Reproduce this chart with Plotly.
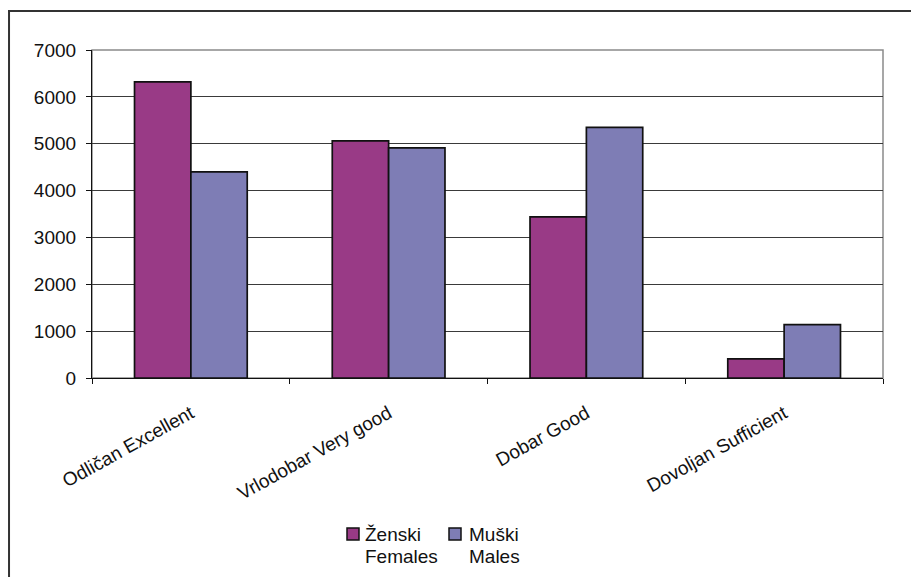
import plotly.graph_objects as go

categories = ["Odličan Excellent", "Vrlodobar Very good", "Dobar Good", "Dovoljan Sufficient"]
females = [6320, 5060, 3440, 410]
males = [4400, 4910, 5350, 1140]
series_names = ["Ženski Females", "Muški Males"]
legend_lines = [["Ženski", "Females"], ["Muški", "Males"]]
series_colors = ["#993A86", "#7E7DB5"]
y_ticks = [0, 1000, 2000, 3000, 4000, 5000, 6000, 7000]

FONT = "Liberation Sans, Arial, sans-serif"
TXT = "#111111"

fig = go.Figure()
for vals, name, col in zip([females, males], series_names, series_colors):
    fig.add_trace(go.Bar(x=categories, y=vals, name=name, showlegend=False,
                         marker=dict(color=col, line=dict(color="#111111", width=1.7))))

# plot-area border (gray)
fig.add_shape(type="rect", xref="paper", yref="paper", x0=0, x1=1, y0=0, y1=1,
              line=dict(color="#8a8a8a", width=1.5), layer="below")
# outer chart border (cropped on right/bottom)
fig.add_shape(type="rect", xref="paper", yref="paper", x0=-0.1049, x1=1.08, y0=-0.7, y1=1.1189,
              line=dict(color="#333333", width=2), layer="below")

# legend drawn manually (pixel-accurate placement)
PL, PT, PW, PH = 84, 42, 791, 328
def px(x): return (x - PL) / PW
def py(y): return (PT + PH - y) / PH

sq_left = [339, 441]
txt_left = [355, 459]
for i, col in enumerate(series_colors):
    fig.add_shape(type="rect", xref="paper", yref="paper",
                  x0=px(sq_left[i]), x1=px(sq_left[i] + 12), y0=py(532), y1=py(520),
                  fillcolor=col, line=dict(color="#111111", width=1.5))
    for j, line in enumerate(legend_lines[i]):
        fig.add_annotation(text=line, xref="paper", yref="paper",
                           x=px(txt_left[i]), y=py(526 + 22 * j),
                           xanchor="left", yanchor="middle", showarrow=False,
                           font=dict(family=FONT, size=19, color=TXT))

fig.update_layout(
    width=911, height=569,
    margin=dict(l=PL, r=911 - PL - PW, t=PT, b=569 - PT - PH),
    paper_bgcolor="white", plot_bgcolor="white",
    barmode="group", bargap=0.43, bargroupgap=0,
    font=dict(family=FONT, size=19, color=TXT),
    showlegend=False,
    xaxis=dict(showline=True, linecolor="#111111", linewidth=1.2,
               ticks="outside", ticklen=5, tickcolor="#111111",
               tickson="boundaries", tickangle=-29,
               tickfont=dict(family=FONT, size=19, color=TXT),
               ticklabelstandoff=16,
               showgrid=False),
    yaxis=dict(range=[0, 7000], tickvals=y_ticks, showline=True, linecolor="#111111", linewidth=1.2,
               ticks="outside", ticklen=5, tickcolor="#111111",
               tickfont=dict(family=FONT, size=19, color=TXT),
               showgrid=True, gridcolor="#3a3a3a", gridwidth=1, zeroline=False,
               ticklabelstandoff=6),
)

fig.write_html("out.html")
